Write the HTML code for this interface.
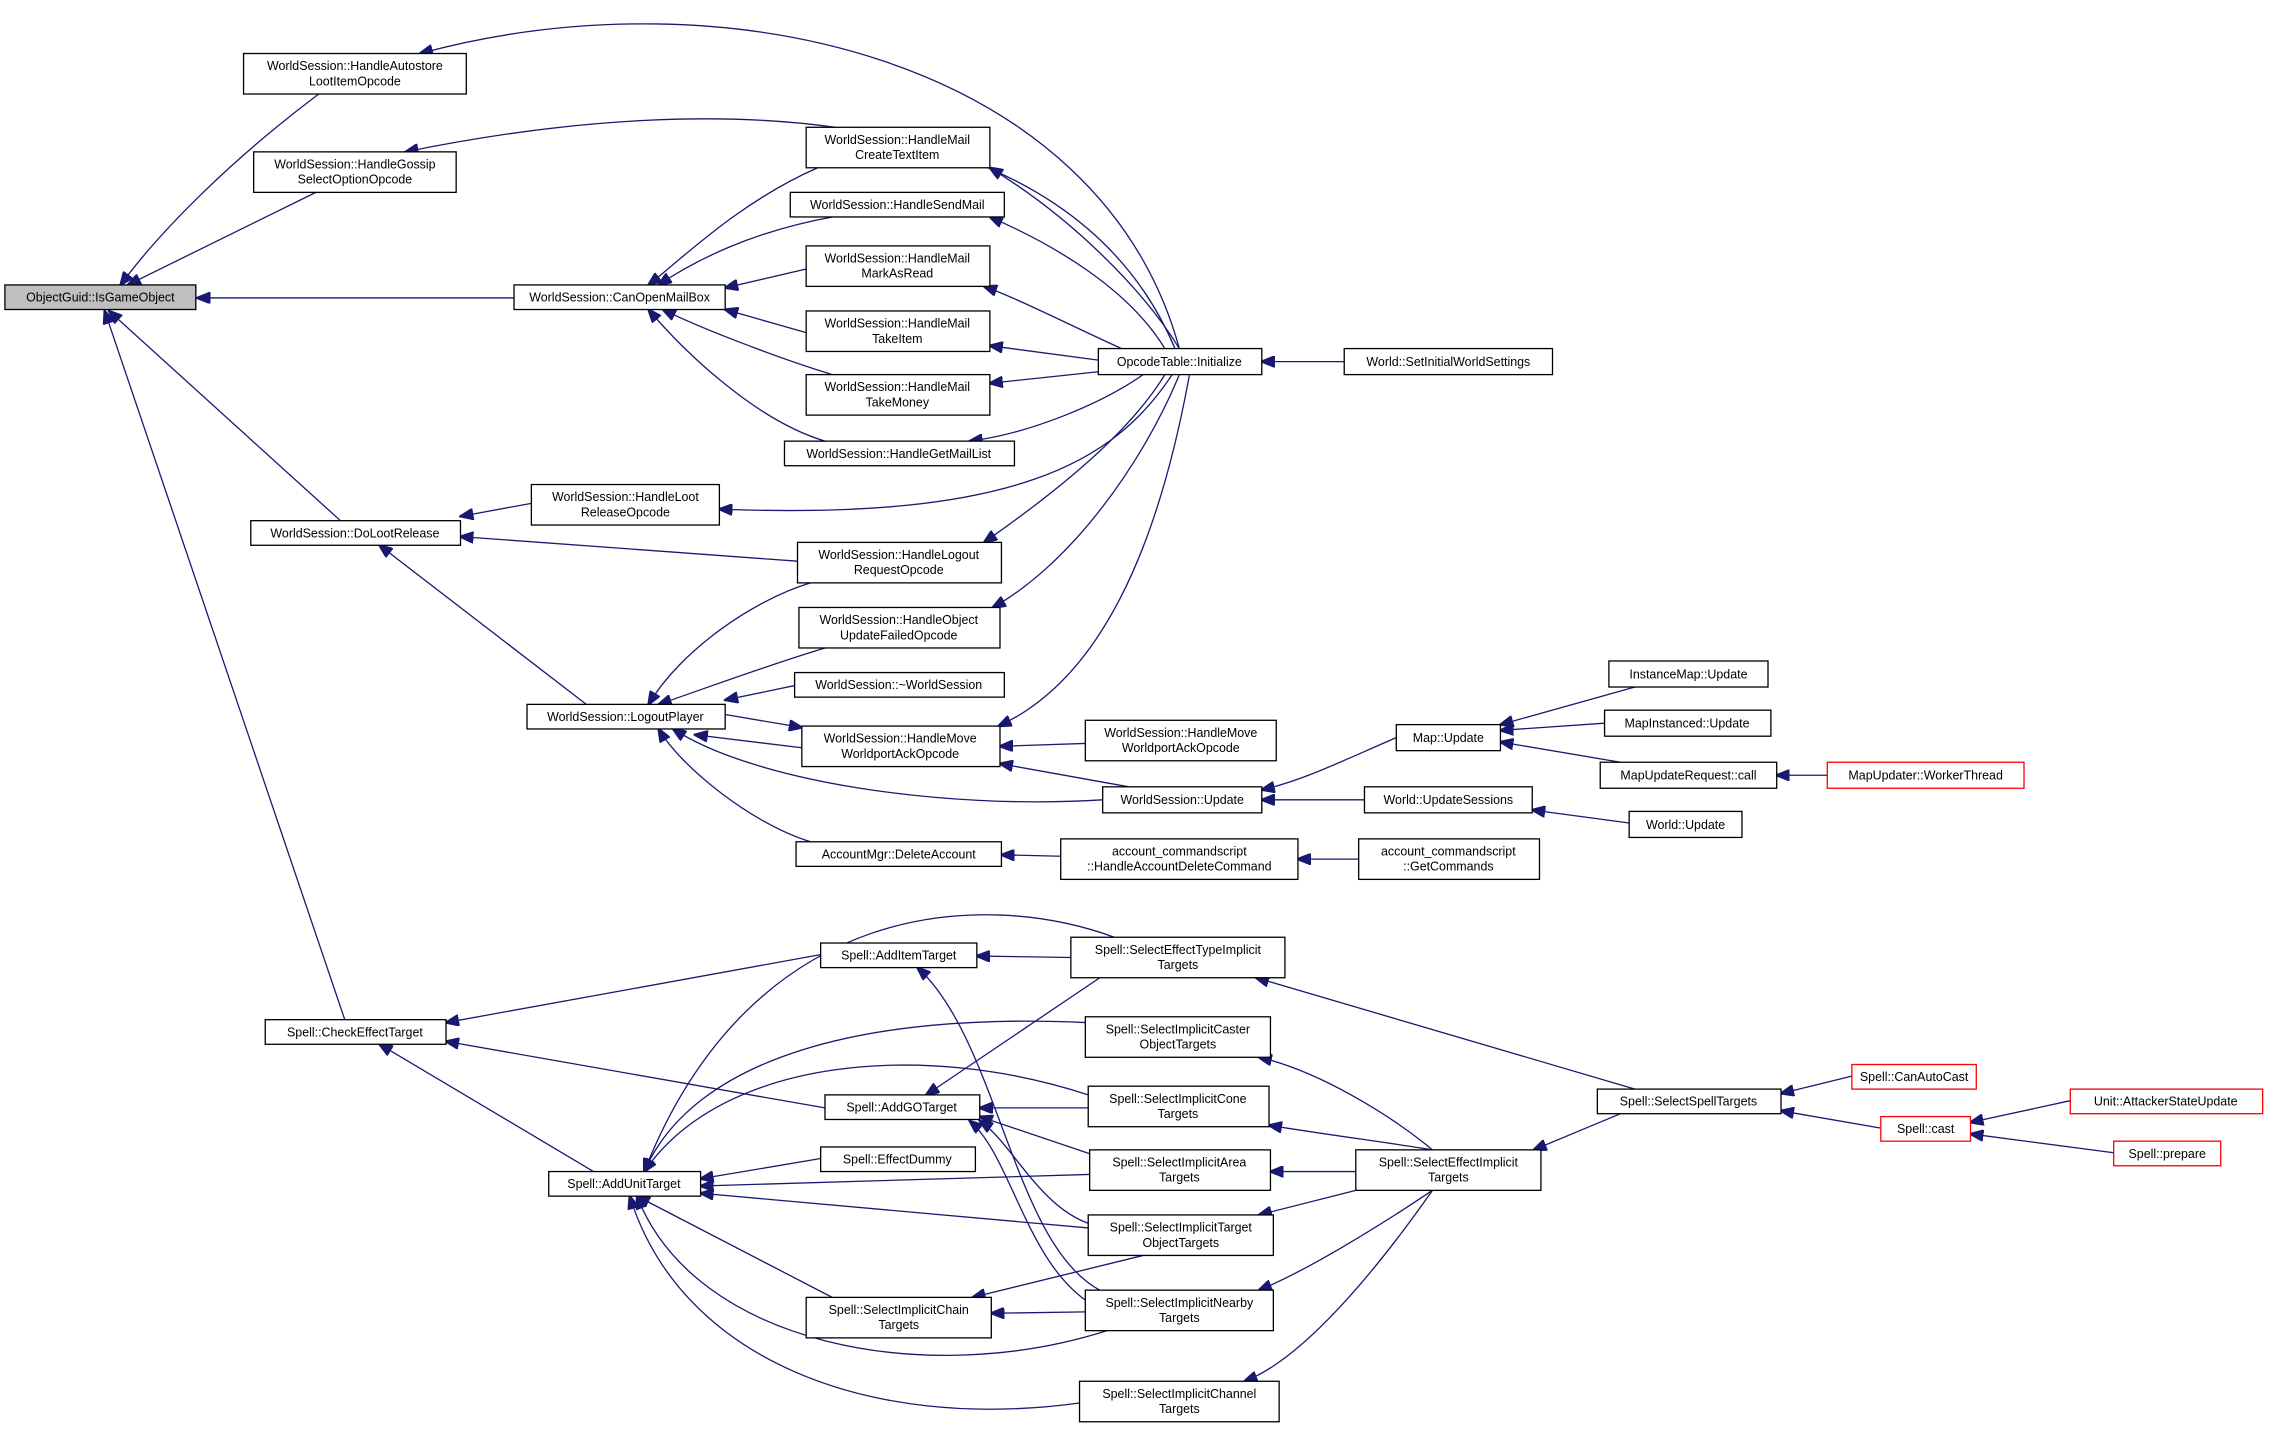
<!DOCTYPE html>
<html><head><meta charset="utf-8"><style>
html,body{margin:0;padding:0;background:#fff;}
svg{display:block;}
text{font-family:"Liberation Sans","DejaVu Sans",sans-serif;font-size:8.6px;fill:#000;text-anchor:middle;}
rect{fill:#fff;stroke:#000;stroke-width:0.9;}
rect.red{stroke:#ff0000;}
path{fill:none;stroke:#191970;stroke-width:0.9;}
</style></head><body>
<svg width="2269" height="1429" viewBox="0 0 1568 988" xmlns="http://www.w3.org/2000/svg">
<defs><marker id="a" markerWidth="10" markerHeight="8" refX="9" refY="4" orient="auto" markerUnits="userSpaceOnUse"><path d="M0,0 L10,4 L0,8 Z" style="fill:#191970;stroke:#191970"/></marker></defs>
<g marker-end="url(#a)">
<path d="M220,65 C160,110 110,160 83,197"/>
<path d="M218,133 L88,197"/>
<path d="M355,206 L136,206"/>
<path d="M235,360 L75,215"/>
<path d="M238,705 L72,215"/>
<path d="M815,241 C760,40 500,-20 290,37"/>
<path d="M812,241 C740,70 500,60 280,105"/>
<path d="M565,116 C510,140 470,180 448,197"/>
<path d="M575,150 C520,160 480,180 455,197"/>
<path d="M557,186 L501,199"/>
<path d="M557,230 L501,214"/>
<path d="M575,259 C530,245 480,225 458,214"/>
<path d="M570,305 C520,290 470,240 448,214"/>
<path d="M815,241 C790,200 740,150 684,116"/>
<path d="M805,241 C780,200 730,170 684,150"/>
<path d="M775,241 C740,225 700,205 680,198"/>
<path d="M759,249 L684,239"/>
<path d="M759,257 L684,265"/>
<path d="M790,259 C760,280 710,300 670,305"/>
<path d="M929,250 L872,250"/>
<path d="M810,259 C770,320 700,360 497,352"/>
<path d="M367,348 L318,357"/>
<path d="M551,388 L318,371"/>
<path d="M405,487 L262,377"/>
<path d="M805,259 C780,300 730,340 680,375"/>
<path d="M815,259 C790,320 740,390 686,420"/>
<path d="M822,259 C800,380 760,470 690,502"/>
<path d="M560,403 C520,415 470,450 448,487"/>
<path d="M570,448 C530,460 490,475 455,487"/>
<path d="M549,474 L501,484"/>
<path d="M501,494 L554,503"/>
<path d="M554,517 L480,508"/>
<path d="M762,553 C650,560 520,540 465,504"/>
<path d="M560,582 C520,570 470,530 455,504"/>
<path d="M750,514 L691,516"/>
<path d="M780,544 L691,528"/>
<path d="M965,510 C930,525 900,540 872,546"/>
<path d="M943,553 L872,553"/>
<path d="M1130,475 L1037,501"/>
<path d="M1109,500 L1037,505"/>
<path d="M1120,527 L1037,513"/>
<path d="M1263,536 L1228,536"/>
<path d="M1126,569 L1059,560"/>
<path d="M733,592 L692,591"/>
<path d="M939,594 L897,594"/>
<path d="M567,660 L308,707"/>
<path d="M570,766 L308,720"/>
<path d="M410,810 L262,722"/>
<path d="M740,662 L675,661"/>
<path d="M770,648 C680,615 520,620 445,810"/>
<path d="M760,892 C700,860 690,720 634,669"/>
<path d="M760,676 L640,757"/>
<path d="M750,707 C600,700 480,730 445,810"/>
<path d="M752,757 C640,720 500,730 445,810"/>
<path d="M752,766 L677,766"/>
<path d="M760,800 L677,772"/>
<path d="M760,848 C720,840 700,790 677,775"/>
<path d="M760,905 C710,880 700,800 670,775"/>
<path d="M567,801 L484,815"/>
<path d="M753,812 L484,820"/>
<path d="M752,849 L484,825"/>
<path d="M575,897 L440,827"/>
<path d="M765,920 C640,960 480,930 440,827"/>
<path d="M746,970 C600,990 470,940 435,827"/>
<path d="M750,907 L685,908"/>
<path d="M790,868 L672,897"/>
<path d="M990,795 C960,790 920,785 877,778"/>
<path d="M990,795 C960,770 910,740 870,731"/>
<path d="M937,810 L878,810"/>
<path d="M937,823 L870,840"/>
<path d="M990,823 C950,850 900,880 870,892"/>
<path d="M990,823 C950,880 900,940 860,955"/>
<path d="M1120,770 L1060,795"/>
<path d="M1130,753 L868,676"/>
<path d="M1280,744 L1231,756"/>
<path d="M1300,780 L1231,768"/>
<path d="M1431,761 L1362,776"/>
<path d="M1461,797 L1362,784"/>
</g>
<rect x="3" y="197" width="132" height="17" style="fill:#bfbfbf"/><text x="69" y="208.5">ObjectGuid::IsGameObject</text>
<rect x="168" y="37" width="154" height="28"/><text x="245" y="48.5">WorldSession::HandleAutostore</text><text x="245" y="59">LootItemOpcode</text>
<rect x="175" y="105" width="140" height="28"/><text x="245" y="116.5">WorldSession::HandleGossip</text><text x="245" y="127">SelectOptionOpcode</text>
<rect x="355" y="197" width="146" height="17"/><text x="428" y="208.5">WorldSession::CanOpenMailBox</text>
<rect x="557" y="88" width="127" height="28"/><text x="620" y="99.5">WorldSession::HandleMail</text><text x="620" y="110">CreateTextItem</text>
<rect x="546" y="133" width="148" height="17"/><text x="620" y="144.5">WorldSession::HandleSendMail</text>
<rect x="557" y="170" width="127" height="28"/><text x="620" y="181.5">WorldSession::HandleMail</text><text x="620" y="192">MarkAsRead</text>
<rect x="557" y="215" width="127" height="28"/><text x="620" y="226.5">WorldSession::HandleMail</text><text x="620" y="237">TakeItem</text>
<rect x="557" y="259" width="127" height="28"/><text x="620" y="270.5">WorldSession::HandleMail</text><text x="620" y="281">TakeMoney</text>
<rect x="542" y="305" width="159" height="17"/><text x="621" y="316.5">WorldSession::HandleGetMailList</text>
<rect x="759" y="241" width="113" height="18"/><text x="815" y="253">OpcodeTable::Initialize</text>
<rect x="929" y="241" width="144" height="18"/><text x="1001" y="253">World::SetInitialWorldSettings</text>
<rect x="367" y="335" width="130" height="28"/><text x="432" y="346.5">WorldSession::HandleLoot</text><text x="432" y="357">ReleaseOpcode</text>
<rect x="173" y="360" width="145" height="17"/><text x="245" y="371.5">WorldSession::DoLootRelease</text>
<rect x="551" y="375" width="141" height="28"/><text x="621" y="386.5">WorldSession::HandleLogout</text><text x="621" y="397">RequestOpcode</text>
<rect x="552" y="420" width="139" height="28"/><text x="621" y="431.5">WorldSession::HandleObject</text><text x="621" y="442">UpdateFailedOpcode</text>
<rect x="549" y="465" width="145" height="17"/><text x="621" y="476.5">WorldSession::~WorldSession</text>
<rect x="364" y="487" width="137" height="17"/><text x="432" y="498.5">WorldSession::LogoutPlayer</text>
<rect x="554" y="502" width="137" height="28"/><text x="622" y="513.5">WorldSession::HandleMove</text><text x="622" y="524">WorldportAckOpcode</text>
<rect x="750" y="498" width="132" height="28"/><text x="816" y="509.5">WorldSession::HandleMove</text><text x="816" y="520">WorldportAckOpcode</text>
<rect x="762" y="544" width="110" height="18"/><text x="817" y="556">WorldSession::Update</text>
<rect x="965" y="501" width="72" height="18"/><text x="1001" y="513">Map::Update</text>
<rect x="1112" y="457" width="110" height="18"/><text x="1167" y="469">InstanceMap::Update</text>
<rect x="1109" y="491" width="115" height="18"/><text x="1166" y="503">MapInstanced::Update</text>
<rect x="1106" y="527" width="122" height="18"/><text x="1167" y="539">MapUpdateRequest::call</text>
<rect class="red" x="1263" y="527" width="136" height="18"/><text x="1331" y="539">MapUpdater::WorkerThread</text>
<rect x="943" y="544" width="116" height="18"/><text x="1001" y="556">World::UpdateSessions</text>
<rect x="1126" y="561" width="78" height="18"/><text x="1165" y="573">World::Update</text>
<rect x="550" y="582" width="142" height="17"/><text x="621" y="593.5">AccountMgr::DeleteAccount</text>
<rect x="733" y="580" width="164" height="28"/><text x="815" y="591.5">account_commandscript</text><text x="815" y="602">::HandleAccountDeleteCommand</text>
<rect x="939" y="580" width="125" height="28"/><text x="1001" y="591.5">account_commandscript</text><text x="1001" y="602">::GetCommands</text>
<rect x="567" y="652" width="108" height="17"/><text x="621" y="663.5">Spell::AddItemTarget</text>
<rect x="740" y="648" width="148" height="28"/><text x="814" y="659.5">Spell::SelectEffectTypeImplicit</text><text x="814" y="670">Targets</text>
<rect x="183" y="705" width="125" height="17"/><text x="245" y="716.5">Spell::CheckEffectTarget</text>
<rect x="750" y="703" width="128" height="28"/><text x="814" y="714.5">Spell::SelectImplicitCaster</text><text x="814" y="725">ObjectTargets</text>
<rect x="570" y="757" width="107" height="17"/><text x="623" y="768.5">Spell::AddGOTarget</text>
<rect x="752" y="751" width="125" height="28"/><text x="814" y="762.5">Spell::SelectImplicitCone</text><text x="814" y="773">Targets</text>
<rect x="567" y="793" width="107" height="17"/><text x="620" y="804.5">Spell::EffectDummy</text>
<rect x="753" y="795" width="125" height="28"/><text x="815" y="806.5">Spell::SelectImplicitArea</text><text x="815" y="817">Targets</text>
<rect x="379" y="810" width="105" height="17"/><text x="431" y="821.5">Spell::AddUnitTarget</text>
<rect x="937" y="795" width="128" height="28"/><text x="1001" y="806.5">Spell::SelectEffectImplicit</text><text x="1001" y="817">Targets</text>
<rect x="1104" y="753" width="127" height="17"/><text x="1167" y="764.5">Spell::SelectSpellTargets</text>
<rect class="red" x="1280" y="736" width="86" height="17"/><text x="1323" y="747.5">Spell::CanAutoCast</text>
<rect class="red" x="1300" y="772" width="62" height="17"/><text x="1331" y="783.5">Spell::cast</text>
<rect class="red" x="1431" y="753" width="133" height="17"/><text x="1497" y="764.5">Unit::AttackerStateUpdate</text>
<rect class="red" x="1461" y="789" width="74" height="17"/><text x="1498" y="800.5">Spell::prepare</text>
<rect x="752" y="840" width="128" height="28"/><text x="816" y="851.5">Spell::SelectImplicitTarget</text><text x="816" y="862">ObjectTargets</text>
<rect x="557" y="897" width="128" height="28"/><text x="621" y="908.5">Spell::SelectImplicitChain</text><text x="621" y="919">Targets</text>
<rect x="750" y="892" width="130" height="28"/><text x="815" y="903.5">Spell::SelectImplicitNearby</text><text x="815" y="914">Targets</text>
<rect x="746" y="955" width="138" height="28"/><text x="815" y="966.5">Spell::SelectImplicitChannel</text><text x="815" y="977">Targets</text>
</svg>
</body></html>
